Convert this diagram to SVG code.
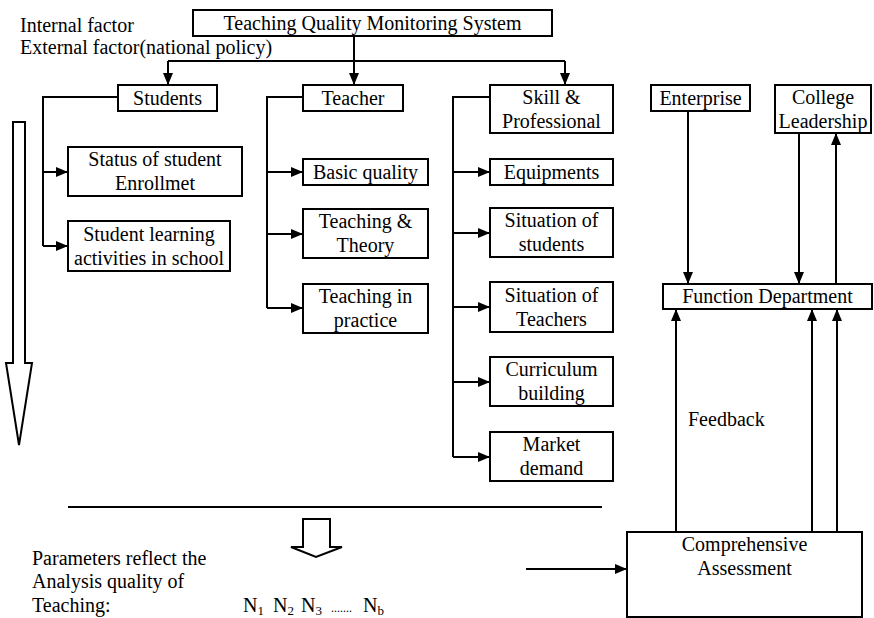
<svg xmlns="http://www.w3.org/2000/svg" width="874" height="618" viewBox="0 0 874 618">
  <style>
    text { font-family: "Liberation Serif", "Times New Roman", serif; font-size: 20px; fill: #000; }
    .c { text-anchor: middle; }
    .box { fill: #fff; stroke: #000; stroke-width: 2; }
    .ln { fill: none; stroke: #000; stroke-width: 2; }
    .hollow { fill: #fff; stroke: #000; stroke-width: 2; stroke-linejoin: miter; }
    .sub { font-size: 13px; }
  </style>
  <defs>
    <marker id="arr" markerWidth="12" markerHeight="10" refX="12" refY="5" orient="auto" markerUnits="userSpaceOnUse">
      <path d="M0,0 L12,5 L0,10 Z" fill="#000"/>
    </marker>
  </defs>

  <rect width="874" height="618" fill="#fff"/>

  <!-- free labels -->
  <text x="20" y="32">Internal factor</text>
  <text x="20" y="54">External factor(national policy)</text>
  <text x="688" y="426">Feedback</text>
  <text x="32" y="565">Parameters reflect the</text>
  <text x="32" y="588">Analysis quality of</text>
  <text x="32" y="612">Teaching:</text>
  <g id="params">
    <text x="243" y="612">N<tspan class="sub" dy="3">1</tspan></text>
    <text x="273" y="612">N<tspan class="sub" dy="3">2</tspan></text>
    <text x="301" y="612">N<tspan class="sub" dy="3">3</tspan></text>
    <text x="331" y="612" style="font-size:12px">.......</text>
    <text x="363" y="612">N<tspan class="sub" dy="3">b</tspan></text>
  </g>

  <!-- connectors -->
  <g id="connectors">
    <!-- top distribution -->
    <line class="ln" x1="354" y1="36" x2="354" y2="85" marker-end="url(#arr)"/>
    <line class="ln" x1="168" y1="61" x2="565" y2="61"/>
    <line class="ln" x1="168" y1="61" x2="168" y2="85" marker-end="url(#arr)"/>
    <line class="ln" x1="565" y1="61" x2="565" y2="85" marker-end="url(#arr)"/>

    <!-- Students branch -->
    <polyline class="ln" points="118,97 43,97 43,246"/>
    <line class="ln" x1="43" y1="172" x2="68" y2="172" marker-end="url(#arr)"/>
    <line class="ln" x1="43" y1="246" x2="68" y2="246" marker-end="url(#arr)"/>

    <!-- Teacher branch -->
    <polyline class="ln" points="303,97 267,97 267,308"/>
    <line class="ln" x1="267" y1="172" x2="303" y2="172" marker-end="url(#arr)"/>
    <line class="ln" x1="267" y1="234" x2="303" y2="234" marker-end="url(#arr)"/>
    <line class="ln" x1="267" y1="308" x2="303" y2="308" marker-end="url(#arr)"/>

    <!-- Skill branch -->
    <polyline class="ln" points="490,97 453,97 453,457"/>
    <line class="ln" x1="453" y1="172" x2="490" y2="172" marker-end="url(#arr)"/>
    <line class="ln" x1="453" y1="233" x2="490" y2="233" marker-end="url(#arr)"/>
    <line class="ln" x1="453" y1="307" x2="490" y2="307" marker-end="url(#arr)"/>
    <line class="ln" x1="453" y1="382" x2="490" y2="382" marker-end="url(#arr)"/>
    <line class="ln" x1="453" y1="457" x2="490" y2="457" marker-end="url(#arr)"/>

    <!-- right side -->
    <line class="ln" x1="688" y1="111" x2="688" y2="284" marker-end="url(#arr)"/>
    <line class="ln" x1="799" y1="133" x2="799" y2="284" marker-end="url(#arr)"/>
    <line class="ln" x1="836" y1="284" x2="836" y2="133" marker-end="url(#arr)"/>
    <line class="ln" x1="676" y1="532" x2="676" y2="309" marker-end="url(#arr)"/>
    <line class="ln" x1="812" y1="532" x2="812" y2="309" marker-end="url(#arr)"/>
    <line class="ln" x1="837" y1="532" x2="837" y2="309" marker-end="url(#arr)"/>
    <line class="ln" x1="526" y1="569" x2="627" y2="569" marker-end="url(#arr)"/>

    <!-- separator -->
    <line class="ln" x1="68" y1="507" x2="602" y2="507"/>

    <!-- hollow flow arrows -->
    <path class="hollow" d="M13,122 L25,122 L25,363 L32,363 L19,445 L6,363 L13,363 Z"/>
    <path class="hollow" d="M303,519 L330,519 L330,547 L342,547 L316,557 L291,547 L303,547 Z"/>
  </g>

  <!-- nodes -->
  <g id="tqms">
    <rect class="box" x="193" y="10" width="359" height="26"/>
    <text class="c" x="372.5" y="30">Teaching Quality Monitoring System</text>
  </g>
  <g id="students">
    <rect class="box" x="118" y="85" width="99" height="26"/>
    <text class="c" x="167.5" y="105">Students</text>
  </g>
  <g id="teacher">
    <rect class="box" x="303" y="85" width="100" height="26"/>
    <text class="c" x="353" y="105">Teacher</text>
  </g>
  <g id="skill">
    <rect class="box" x="490" y="85" width="123" height="48"/>
    <text class="c" x="551.5" y="104">Skill &amp;</text>
    <text class="c" x="551.5" y="128">Professional</text>
  </g>
  <g id="enterprise">
    <rect class="box" x="651" y="85" width="99" height="26"/>
    <text class="c" x="700.5" y="105">Enterprise</text>
  </g>
  <g id="college">
    <rect class="box" x="775" y="85" width="96" height="48"/>
    <text class="c" x="823" y="104">College</text>
    <text class="c" x="823" y="128">Leadership</text>
  </g>

  <g id="status">
    <rect class="box" x="68" y="147" width="174" height="49"/>
    <text class="c" x="155" y="166">Status of student</text>
    <text class="c" x="155" y="190">Enrollmet</text>
  </g>
  <g id="learning">
    <rect class="box" x="68" y="221" width="162" height="50"/>
    <text class="c" x="149" y="241">Student learning</text>
    <text class="c" x="149" y="265">activities in school</text>
  </g>

  <g id="basic">
    <rect class="box" x="303" y="159" width="125" height="26"/>
    <text class="c" x="365.5" y="179">Basic quality</text>
  </g>
  <g id="theory">
    <rect class="box" x="303" y="209" width="125" height="49"/>
    <text class="c" x="365.5" y="228">Teaching &amp;</text>
    <text class="c" x="365.5" y="252">Theory</text>
  </g>
  <g id="practice">
    <rect class="box" x="303" y="284" width="125" height="49"/>
    <text class="c" x="365.5" y="303">Teaching in</text>
    <text class="c" x="365.5" y="327">practice</text>
  </g>

  <g id="equipments">
    <rect class="box" x="490" y="159" width="123" height="26"/>
    <text class="c" x="551.5" y="179">Equipments</text>
  </g>
  <g id="sit-students">
    <rect class="box" x="490" y="208" width="123" height="49"/>
    <text class="c" x="551.5" y="227">Situation of</text>
    <text class="c" x="551.5" y="251">students</text>
  </g>
  <g id="sit-teachers">
    <rect class="box" x="490" y="282" width="123" height="50"/>
    <text class="c" x="551.5" y="302">Situation of</text>
    <text class="c" x="551.5" y="326">Teachers</text>
  </g>
  <g id="curriculum">
    <rect class="box" x="490" y="357" width="123" height="49"/>
    <text class="c" x="551.5" y="376">Curriculum</text>
    <text class="c" x="551.5" y="400">building</text>
  </g>
  <g id="market">
    <rect class="box" x="490" y="432" width="123" height="49"/>
    <text class="c" x="551.5" y="451">Market</text>
    <text class="c" x="551.5" y="475">demand</text>
  </g>

  <g id="function">
    <rect class="box" x="663" y="284" width="209" height="25"/>
    <text class="c" x="767.5" y="303">Function Department</text>
  </g>
  <g id="assessment">
    <rect class="box" x="627" y="532" width="235" height="85"/>
    <text class="c" x="744.5" y="551">Comprehensive</text>
    <text class="c" x="744.5" y="575">Assessment</text>
  </g>
</svg>
